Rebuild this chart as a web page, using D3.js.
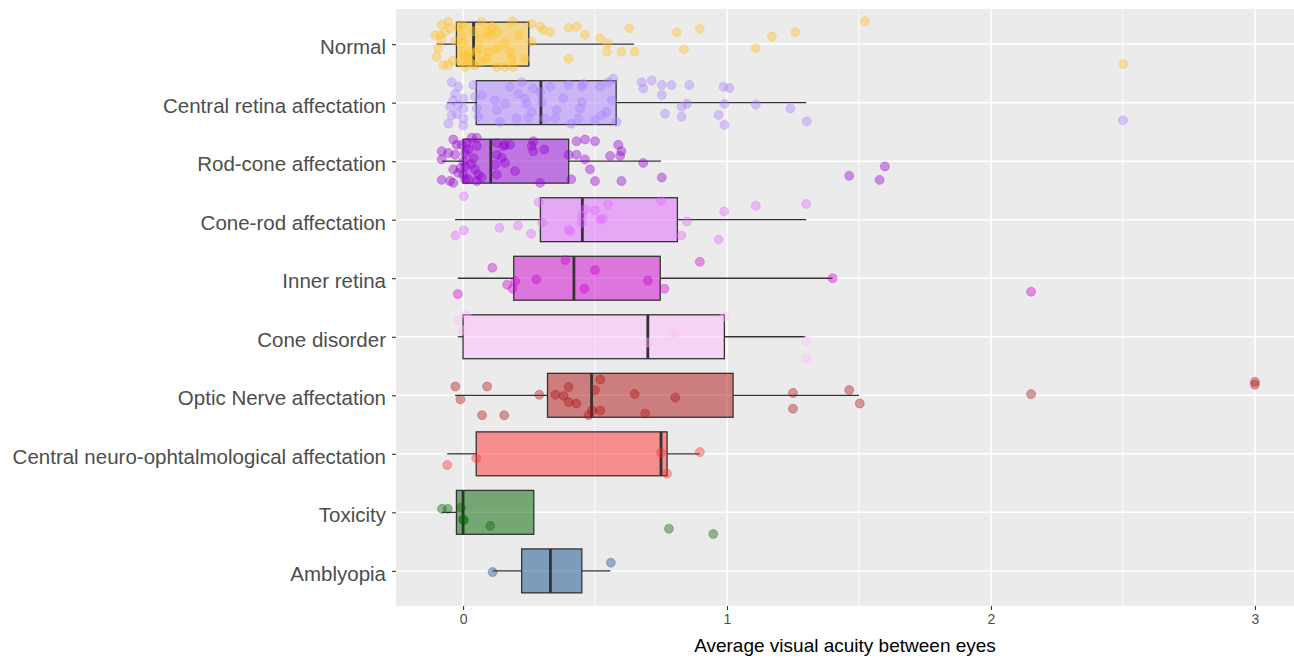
<!DOCTYPE html>
<html>
<head>
<meta charset="utf-8">
<script src="https://cdn.jsdelivr.net/npm/d3@7"></script>
<style>
  html, body { margin: 0; padding: 0; background: #fff; }
  svg { display: block; font-family: "Liberation Sans", Arial, sans-serif; }
</style>
</head>
<body>
<svg id="chart" width="1294" height="658"></svg>
<script>
// ---------------- data ----------------
const categories = [
  "Normal", "Central retina affectation", "Rod-cone affectation", "Cone-rod affectation",
  "Inner retina", "Cone disorder", "Optic Nerve affectation",
  "Central neuro-ophtalmological affectation", "Toxicity", "Amblyopia"
];
const fillColors = ["#FFC125", "#AB82FF", "#9400D3", "#E066FF", "#CD00CD",
                    "#FFBBFF", "#AD1111", "#FF3030", "#006400", "#104E8B"];

const whiskerLow  = [-0.10, -0.06, -0.08, -0.03, -0.02, -0.02, -0.03, -0.06, -0.08, 0.112];
const quartile1   = [-0.025, 0.05, 0.0, 0.293, 0.192, 0.0, 0.32, 0.05, -0.025, 0.222];
const medians     = [0.04, 0.295, 0.105, 0.452, 0.42, 0.70, 0.487, 0.75, 0.0, 0.331];
const quartile3   = [0.249, 0.58, 0.40, 0.812, 0.747, 0.99, 1.023, 0.773, 0.268, 0.45];
const whiskerHigh = [0.648, 1.30, 0.75, 1.30, 1.40, 1.297, 1.50, 0.897, 0.268, 0.558];

const xTicks = [0, 1, 2, 3];
const xTitle = "Average visual acuity between eyes";

// jittered observations: [visual acuity, vertical jitter (fraction of band step)]
const normalPts = [[-0.081,-0.33],[-0.056,-0.38],[-0.049,-0.27],[-0.068,-0.21],[-0.087,-0.15],[-0.106,-0.15],[-0.081,-0.07],[-0.094,0.075],[-0.10,0.22],[-0.075,0.36],[-0.056,0.36],[-0.018,-0.30],[0.001,-0.32],[-0.005,-0.15],[0.001,-0.01],[-0.005,0.13],[-0.011,0.30],[0.008,0.39],[0.02,0.25],[0.027,0.13],[0.033,0.33],[0.045,0.36],[0.058,0.075],[0.064,-0.10],[0.071,-0.38],[0.09,-0.21],[0.102,-0.15],[0.128,-0.21],[0.128,0.075],[0.096,0.13],[0.09,0.25],[0.128,0.39],[0.159,-0.01],[0.159,0.39],[0.178,0.13],[0.184,0.25],[0.19,0.39],[0.187,-0.39],[0.21,-0.15],[0.235,0.25],[0.26,-0.35],[0.26,-0.04],[0.292,-0.30],[0.304,-0.24],[0.33,-0.21],[0.40,-0.28],[0.43,-0.30],[0.462,-0.16],[0.40,0.25],[0.519,-0.10],[0.548,-0.01],[0.544,0.13],[0.60,0.13],[0.65,0.13],[0.63,-0.27],[0.81,-0.20],[0.897,-0.26],[0.837,0.09],[1.109,0.07],[1.17,-0.13],[1.259,-0.20],[1.522,-0.39],[2.50,0.34],[-0.03,-0.05],[0.01,0.2],[0.04,-0.22],[-0.04,0.28],[0.07,0.3],[0.11,-0.3],[0.05,0.15]];
const centralRetinaPts = [[-0.043,-0.35],[-0.018,-0.27],[-0.03,-0.15],[-0.037,-0.04],[-0.049,0.07],[-0.043,0.22],[-0.056,0.36],[-0.024,0.19],[-0.018,0.04],[0.001,-0.07],[0.001,0.10],[0.001,0.27],[0.001,0.39],[0.039,-0.30],[0.045,-0.10],[0.052,0.10],[0.058,0.24],[0.071,-0.13],[0.121,-0.04],[0.128,0.13],[0.14,0.33],[0.159,0.02],[0.178,-0.27],[0.203,0.27],[0.21,-0.15],[0.222,-0.35],[0.235,-0.07],[0.241,0.02],[0.247,0.27],[0.26,0.16],[0.266,-0.24],[0.292,-0.18],[0.298,-0.01],[0.31,0.27],[0.33,-0.27],[0.355,0.13],[0.348,0.27],[0.38,-0.07],[0.40,-0.30],[0.41,0.36],[0.437,0.27],[0.443,0.10],[0.45,-0.01],[0.45,-0.27],[0.456,-0.32],[0.50,0.30],[0.519,-0.27],[0.525,0.22],[0.544,0.16],[0.55,-0.35],[0.563,-0.04],[0.569,-0.41],[0.582,0.33],[0.677,-0.35],[0.683,-0.24],[0.715,-0.38],[0.753,-0.30],[0.753,-0.13],[0.79,-0.30],[0.765,0.19],[0.828,0.07],[0.828,0.24],[0.857,-0.30],[0.848,0.02],[0.987,-0.27],[1.009,-0.25],[0.99,0.02],[0.968,0.21],[0.99,0.38],[1.109,0.03],[1.24,0.10],[1.302,0.32],[2.50,0.30]];
const rodConePts = [[-0.037,-0.37],[-0.024,-0.28],[-0.081,-0.17],[-0.056,-0.14],[-0.081,-0.03],[-0.03,-0.11],[-0.005,-0.28],[0.014,-0.31],[0.033,-0.40],[0.052,-0.40],[0.052,-0.26],[0.008,-0.14],[0.001,0.0],[0.008,0.09],[-0.037,0.14],[-0.018,0.20],[0.001,0.23],[0.008,0.31],[-0.081,0.32],[-0.049,0.34],[-0.037,0.37],[0.02,0.31],[0.045,0.14],[0.058,0.23],[0.071,0.28],[0.052,0.34],[0.128,-0.31],[0.153,-0.26],[0.159,-0.28],[0.178,-0.28],[0.128,-0.11],[0.147,-0.06],[0.159,0.03],[0.121,0.06],[0.128,0.23],[0.197,0.17],[0.26,-0.26],[0.266,-0.34],[0.266,-0.17],[0.308,-0.20],[0.292,0.37],[0.40,-0.11],[0.43,-0.34],[0.462,-0.37],[0.50,-0.34],[0.43,-0.11],[0.462,-0.03],[0.481,0.14],[0.41,0.31],[0.50,0.34],[0.557,-0.09],[0.588,-0.28],[0.60,-0.17],[0.595,-0.09],[0.60,0.34],[0.683,0.03],[0.753,0.28],[1.463,0.25],[1.598,0.09],[1.578,0.32],[0.02,-0.2],[0.03,0.05],[-0.01,0.12],[0.04,-0.05]];
const coneRodPts = [[0.003,-0.40],[-0.029,0.27],[0.003,0.18],[0.138,0.14],[0.208,0.10],[0.258,0.24],[0.287,-0.30],[0.30,0.05],[0.40,0.17],[0.406,0.20],[0.45,-0.07],[0.45,0.05],[0.461,-0.18],[0.50,-0.16],[0.52,0.0],[0.53,-0.02],[0.549,-0.26],[0.751,-0.32],[0.848,0.03],[0.827,0.27],[0.989,-0.14],[0.968,0.34],[1.109,-0.24],[1.30,-0.27]];
const innerRetinaPts = [[0.111,-0.18],[0.388,-0.31],[0.50,-0.14],[0.278,0.02],[0.198,0.05],[0.167,0.11],[0.188,0.18],[0.46,0.18],[0.70,0.04],[0.763,0.18],[-0.02,0.27],[0.897,-0.28],[1.40,0.0],[2.152,0.23]];
const coneDisorderPts = [[0.013,-0.38],[-0.02,-0.28],[0.0,-0.11],[0.70,0.10],[0.80,-0.05],[0.99,-0.34],[1.30,0.07],[1.30,0.37]];
const opticNervePts = [[-0.029,-0.15],[0.091,-0.15],[-0.01,0.07],[0.072,0.34],[0.156,0.34],[0.289,-0.01],[0.35,-0.01],[0.381,0.01],[0.40,-0.14],[0.40,0.12],[0.429,0.14],[0.52,-0.27],[0.50,-0.09],[0.489,0.26],[0.52,0.26],[0.476,0.34],[0.65,-0.02],[0.69,0.31],[0.804,0.04],[1.25,-0.04],[1.25,0.23],[1.463,-0.09],[1.503,0.14],[2.152,-0.02],[3.0,-0.23],[3.0,-0.18]];
const centralNeuroPts = [[-0.06,0.19],[0.05,0.075],[0.75,-0.02],[0.773,0.34],[0.897,-0.03]];
const toxicityPts = [[-0.08,-0.06],[-0.058,-0.06],[-0.008,-0.08],[0.003,0.14],[0.0,0.12],[0.103,0.23],[0.78,0.28],[0.948,0.37]];
const amblyopiaPts = [[0.112,0.02],[0.56,-0.14]];

const pointsByCategory = [normalPts, centralRetinaPts, rodConePts, coneRodPts, innerRetinaPts,
  coneDisorderPts, opticNervePts, centralNeuroPts, toxicityPts, amblyopiaPts];

// ---------------- layout ----------------
const W = 1294, H = 658;
const panel = { left: 396, right: 1294, top: 9, bottom: 606 };
const bg = "#EBEBEB";

const svg = d3.select("#chart");

const x = d3.scaleLinear().domain([-0.254, 3.148]).range([panel.left, panel.right]);
const y = d3.scalePoint().domain(categories).range([panel.top, panel.bottom]).padding(0.6);
const step = y.step();

// panel background
svg.append("rect")
  .attr("x", panel.left).attr("y", panel.top)
  .attr("width", panel.right - panel.left).attr("height", panel.bottom - panel.top)
  .attr("fill", bg);

const gridG = svg.append("g");
gridG.selectAll("line.minor").data([0.5, 1.5, 2.5]).enter().append("line")
  .attr("x1", d => x(d)).attr("x2", d => x(d))
  .attr("y1", panel.top).attr("y2", panel.bottom)
  .attr("stroke", "#fff").attr("stroke-width", 0.9);
gridG.selectAll("line.majorx").data(xTicks).enter().append("line")
  .attr("x1", d => x(d)).attr("x2", d => x(d))
  .attr("y1", panel.top).attr("y2", panel.bottom)
  .attr("stroke", "#fff").attr("stroke-width", 1.5);
gridG.selectAll("line.majory").data(categories).enter().append("line")
  .attr("x1", panel.left).attr("x2", panel.right)
  .attr("y1", d => y(d)).attr("y2", d => y(d))
  .attr("stroke", "#fff").attr("stroke-width", 1.5);

// ---------------- boxplots ----------------
const boxH = step * 0.75;
const lineCol = "#333333";
const boxG = svg.append("g");
categories.forEach((c, i) => {
  const cy = y(c);
  const g = boxG.append("g");
  g.append("line").attr("x1", x(whiskerLow[i])).attr("x2", x(quartile1[i]))
    .attr("y1", cy).attr("y2", cy).attr("stroke", lineCol).attr("stroke-width", 1.3);
  g.append("line").attr("x1", x(quartile3[i])).attr("x2", x(whiskerHigh[i]))
    .attr("y1", cy).attr("y2", cy).attr("stroke", lineCol).attr("stroke-width", 1.3);
  g.append("rect")
    .attr("x", x(quartile1[i])).attr("y", cy - boxH / 2)
    .attr("width", x(quartile3[i]) - x(quartile1[i])).attr("height", boxH)
    .attr("fill", fillColors[i]).attr("fill-opacity", 0.5)
    .attr("stroke", lineCol).attr("stroke-width", 1.3);
  g.append("line").attr("x1", x(medians[i])).attr("x2", x(medians[i]))
    .attr("y1", cy - boxH / 2).attr("y2", cy + boxH / 2)
    .attr("stroke", lineCol).attr("stroke-width", 2.8);
});

// ---------------- jittered points ----------------
const ptG = svg.append("g");
categories.forEach((c, i) => {
  ptG.selectAll(null).data(pointsByCategory[i]).enter().append("circle")
    .attr("cx", d => x(d[0]))
    .attr("cy", d => y(c) + d[1] * step)
    .attr("r", 4.5)
    .attr("fill", fillColors[i]).attr("fill-opacity", 0.4)
    .attr("stroke", fillColors[i]).attr("stroke-opacity", 0.3).attr("stroke-width", 1);
});

// ---------------- axes ----------------
const xAxis = d3.axisBottom(x).tickValues(xTicks).tickFormat(d3.format("d")).tickSize(4).tickPadding(4);
const xg = svg.append("g").attr("transform", `translate(0,${panel.bottom})`).call(xAxis);
xg.select(".domain").remove();
xg.selectAll(".tick line").attr("stroke", lineCol).attr("stroke-width", 1.1);
xg.selectAll(".tick text").attr("fill", "#4D4D4D").style("font-size", "14px")
  .style("font-family", "Liberation Sans, Arial, sans-serif");

const yAxis = d3.axisLeft(y).tickSize(4).tickPadding(6);
const yg = svg.append("g").attr("transform", `translate(${panel.left},0)`).call(yAxis);
yg.select(".domain").remove();
yg.selectAll(".tick line").attr("stroke", lineCol).attr("stroke-width", 1.1);
yg.selectAll(".tick text").attr("fill", "#4D4D4D").style("font-size", "20.5px")
  .attr("y", 3)
  .style("font-family", "Liberation Sans, Arial, sans-serif");

svg.append("text")
  .attr("x", (panel.left + panel.right) / 2).attr("y", 652)
  .attr("text-anchor", "middle")
  .attr("fill", "#000")
  .style("font-size", "19px")
  .text(xTitle);
</script>
</body>
</html>
